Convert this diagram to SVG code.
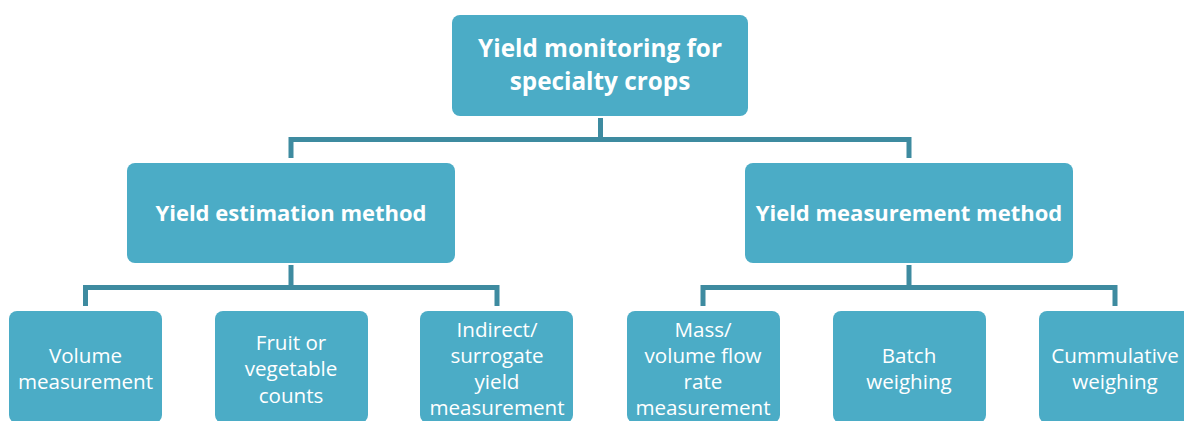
<svg xmlns="http://www.w3.org/2000/svg" width="1184" height="421" viewBox="0 0 1184 421">
  <style>
    .box { fill: #4BACC6; }
    .conn { fill: none; stroke: #3E8BA0; stroke-width: 5; stroke-linejoin: miter; }
    .t1 { font-family: "Open Sans", "Liberation Sans", sans-serif; font-weight: bold; font-size: 24.3px; fill: #FFFFFF; text-anchor: middle; }
    .t2 { font-family: "Open Sans", "Liberation Sans", sans-serif; font-weight: bold; font-size: 22px; fill: #FFFFFF; text-anchor: middle; }
    .t3 { font-family: "Open Sans", "Liberation Sans", sans-serif; font-size: 20.6px; fill: #FFFFFF; text-anchor: middle; }
  </style>
  <rect width="1184" height="421" fill="#FFFFFF"/>
  <g id="connectors">
    <path class="conn" d="M600.5 118 V139.5"/>
    <path class="conn" d="M291 158 V139.5 H909 V158"/>
    <path class="conn" d="M291 265 V287.5"/>
    <path class="conn" d="M85.5 306 V287.5 H497 V306"/>
    <path class="conn" d="M909 265 V287.5"/>
    <path class="conn" d="M703 306 V287.5 H1115 V306"/>
  </g>
  <g id="root">
    <rect class="box" x="452" y="15" width="296" height="101" rx="8"/>
    <text class="t1" x="600" y="57">Yield monitoring for</text>
    <text class="t1" x="600" y="90">specialty crops</text>
  </g>
  <g id="estimation">
    <rect class="box" x="127" y="163" width="328" height="100" rx="8"/>
    <text class="t2" x="291" y="221">Yield estimation method</text>
  </g>
  <g id="measurement">
    <rect class="box" x="745" y="163" width="328" height="100" rx="8"/>
    <text class="t2" x="909" y="221">Yield measurement method</text>
  </g>
  <g id="volume">
    <rect class="box" x="9" y="311" width="153" height="112" rx="8"/>
    <text class="t3" x="85.5" y="363">Volume</text>
    <text class="t3" x="85.5" y="389">measurement</text>
  </g>
  <g id="counts">
    <rect class="box" x="215" y="311" width="153" height="112" rx="8"/>
    <text class="t3" x="291" y="350">Fruit or</text>
    <text class="t3" x="291" y="376">vegetable</text>
    <text class="t3" x="291" y="403">counts</text>
  </g>
  <g id="indirect">
    <rect class="box" x="420" y="311" width="153" height="112" rx="8"/>
    <text class="t3" x="497" y="337">Indirect/</text>
    <text class="t3" x="497" y="363">surrogate</text>
    <text class="t3" x="497" y="389">yield</text>
    <text class="t3" x="497" y="415">measurement</text>
  </g>
  <g id="flowrate">
    <rect class="box" x="627" y="311" width="153" height="112" rx="8"/>
    <text class="t3" x="703" y="337">Mass/</text>
    <text class="t3" x="703" y="363">volume flow</text>
    <text class="t3" x="703" y="389">rate</text>
    <text class="t3" x="703" y="415">measurement</text>
  </g>
  <g id="batch">
    <rect class="box" x="833" y="311" width="153" height="112" rx="8"/>
    <text class="t3" x="909" y="363">Batch</text>
    <text class="t3" x="909" y="389">weighing</text>
  </g>
  <g id="cumulative">
    <rect class="box" x="1039" y="311" width="153" height="112" rx="8"/>
    <text class="t3" x="1115" y="363">Cummulative</text>
    <text class="t3" x="1115" y="389">weighing</text>
  </g>
</svg>
